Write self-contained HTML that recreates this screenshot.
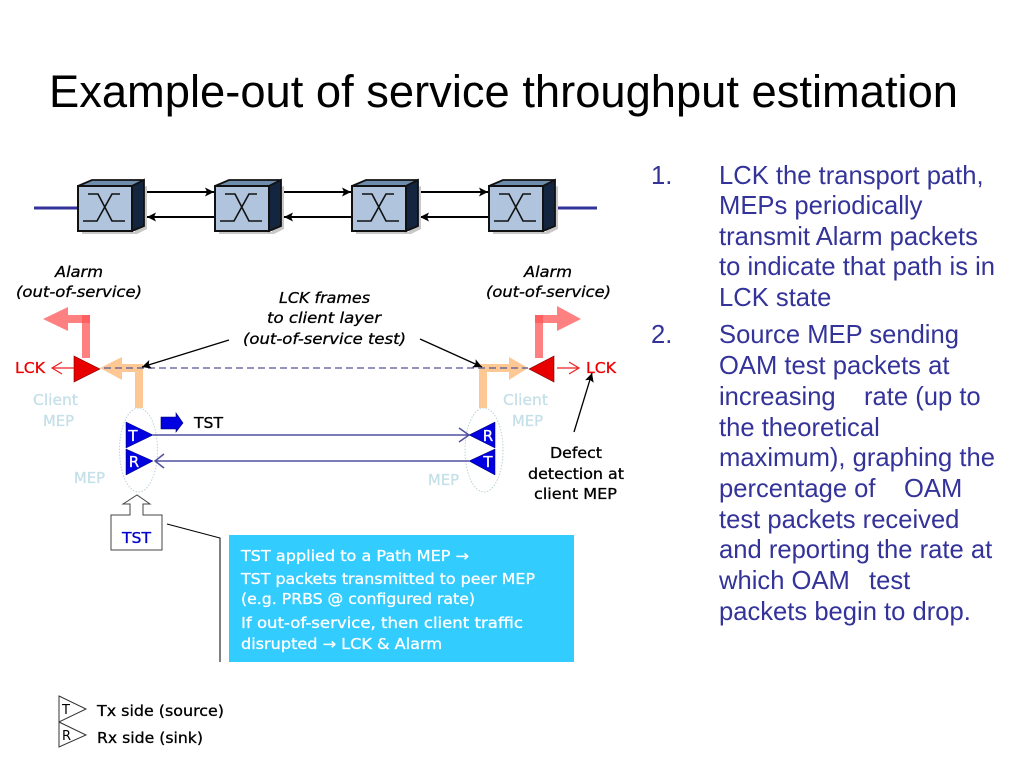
<!DOCTYPE html>
<html><head><meta charset="utf-8"><style>
html,body{margin:0;padding:0;background:#fff}
svg{display:block}
.d{font-family:"DejaVu Sans","Liberation Sans",sans-serif;font-size:15px;stroke-width:.3px}
.r{font-family:"Liberation Sans",Arial,sans-serif;font-size:25.6px;fill:#333399;white-space:pre}
</style></head><body>
<svg width="1024" height="768" viewBox="0 0 1024 768" xmlns="http://www.w3.org/2000/svg">
<defs>
<g id="sw">
<path d="M135 190L147 186V229L137 234H82V232H135Z" fill="#c8c8c8"/>
<path d="M78 186L92 180H144L132 186Z" fill="#6e8cab" stroke="#111" stroke-width="1.8"/>
<path d="M132 186L144 180V226L132 231Z" fill="#14253f" stroke="#111" stroke-width="1.8"/>
<rect x="78" y="186" width="54" height="45" fill="#b0c4de" stroke="#111" stroke-width="2"/>
<path d="M83 221H97L112 194H120M88 194H98L112 221H125" fill="none" stroke="#111" stroke-width="1.6"/>
</g>
<marker id="ab" markerWidth="10" markerHeight="9" refX="9" refY="4.500" orient="auto" markerUnits="userSpaceOnUse"><path d="M0 0L9 4.500L0 9L2 4.500Z" fill="#000"/></marker>
</defs>

<text x="49" y="107" font-family="Liberation Sans, Arial, sans-serif" font-size="45.3" fill="#000" textLength="909" lengthAdjust="spacingAndGlyphs">Example-out of service throughput estimation</text>

<!-- network row -->
<line x1="34" y1="208" x2="80" y2="208" stroke="#333399" stroke-width="3"/>
<line x1="548" y1="208" x2="597" y2="208" stroke="#333399" stroke-width="3"/>
<g stroke="#000" stroke-width="2" marker-end="url(#ab)">
<line x1="146" y1="192" x2="214" y2="192"/><line x1="283" y1="192" x2="351" y2="192"/><line x1="420" y1="192" x2="488" y2="192"/>
<line x1="215" y1="217" x2="147" y2="217"/><line x1="352" y1="217" x2="284" y2="217"/><line x1="488" y1="217" x2="420" y2="217"/>
</g>
<use href="#sw"/><use href="#sw" x="137"/><use href="#sw" x="274"/><use href="#sw" x="411"/>

<!-- pink arrows -->
<g fill="#ff8080" stroke="none">
<path d="M82 358V323H68V331L43 319L68 307V315H90V358Z"/>
<path d="M535 358V315H557V306L581 319L557 331V323H543V358Z"/>
</g>
<rect x="82" y="315" width="8" height="8" fill="#ff5f5f"/>
<rect x="535" y="315" width="8" height="8" fill="#ff5f5f"/>
<!-- orange arrows -->
<g fill="#fdc893">
<path d="M135 408V372H122V380L100 368L122 357V364H143V408Z"/>
<path d="M479 408V364H509V357L528 368L509 380V372H487V408Z"/>
</g>
<!-- dashed -->
<line x1="104" y1="368" x2="528" y2="368" stroke="#555599" stroke-width="1.2" stroke-dasharray="7,4"/>
<!-- red -->
<path d="M74 356L100 369L74 382Z" fill="#e80000" stroke="#700" stroke-width=".6"/>
<path d="M554 356L529 369L554 382Z" fill="#e80000" stroke="#700" stroke-width=".6"/>
<g fill="none" stroke="#ee2222" stroke-width="1.2">
<path d="M74 368H53M62 362L52 368L62 374"/>
<path d="M557 368H578M569 362L579 368L569 374"/>
</g>
<!-- black leaders -->
<g stroke="#000" stroke-width="1.3" marker-end="url(#ab)">
<line x1="229" y1="340" x2="142" y2="367"/>
<line x1="420" y1="339" x2="482" y2="367"/>
<line x1="574" y1="432" x2="592" y2="373"/>
</g>

<!-- MEP ellipses -->
<ellipse cx="138.500" cy="450" rx="19" ry="42" fill="none" stroke="#bcd2d8" stroke-width="1" stroke-dasharray="1.500,1.500"/>
<ellipse cx="484" cy="450" rx="19" ry="42" fill="none" stroke="#bcd2d8" stroke-width="1" stroke-dasharray="1.500,1.500"/>
<!-- blue lines -->
<g fill="none" stroke="#5050a0" stroke-width="1.5">
<path d="M153 435H469M459 428L469 435L459 442"/>
<path d="M155 461H469M164 454L155 461L164 468"/>
</g>
<!-- triangles -->
<g fill="#0000e0" stroke="#000060" stroke-width=".5">
<path d="M126 422L153 435L126 448Z"/><path d="M126 449L153 461L126 475Z"/>
<path d="M495 422L469 435L495 448Z"/><path d="M495 449L469 461L495 475Z"/>
</g>
<path d="M161 417H176V413L183 423L176 432V429H161Z" fill="#0000e0" stroke="#000060" stroke-width=".6"/>
<g class="d" fill="#fff" stroke="#fff" text-anchor="middle">
<text x="133" y="441">T</text><text x="134" y="467">R</text>
<text x="488" y="441">R</text><text x="488" y="467">T</text>
</g>

<!-- TST house -->
<path d="M111 515H130V504H123L137 495L150 504H143V515H162V550H111Z" fill="#fff" stroke="#444" stroke-width="1"/>
<text class="d" x="122" y="543" fill="#0000cc" stroke="#0000cc" textLength="29" lengthAdjust="spacingAndGlyphs">TST</text>
<path d="M167 524L220 538V662" fill="none" stroke="#000" stroke-width="1"/>
<rect x="229" y="535" width="345" height="127" fill="#33ccff"/>
<g class="d" fill="#fff" stroke="#fff">
<text x="241" y="561" textLength="228" lengthAdjust="spacingAndGlyphs">TST applied to a Path MEP →</text>
<text x="241" y="584" textLength="294" lengthAdjust="spacingAndGlyphs">TST packets transmitted to peer MEP</text>
<text x="241" y="604" textLength="234" lengthAdjust="spacingAndGlyphs">(e.g. PRBS @ configured rate)</text>
<text x="241" y="628" textLength="282" lengthAdjust="spacingAndGlyphs">If out-of-service, then client traffic</text>
<text x="241" y="649" textLength="201" lengthAdjust="spacingAndGlyphs">disrupted → LCK &amp; Alarm</text>
</g>

<!-- labels -->
<g class="d" fill="#000" stroke="#000" font-style="italic">
<text x="55" y="277" textLength="48" lengthAdjust="spacingAndGlyphs">Alarm</text>
<text x="16" y="297" textLength="126" lengthAdjust="spacingAndGlyphs">(out-of-service)</text>
<text x="524" y="277" textLength="48" lengthAdjust="spacingAndGlyphs">Alarm</text>
<text x="486" y="297" textLength="125" lengthAdjust="spacingAndGlyphs">(out-of-service)</text>
<text x="279" y="303" textLength="91" lengthAdjust="spacingAndGlyphs">LCK frames</text>
<text x="267" y="323" textLength="114" lengthAdjust="spacingAndGlyphs">to client layer</text>
<text x="243" y="344" textLength="163" lengthAdjust="spacingAndGlyphs">(out-of-service test)</text>
</g>
<g class="d" fill="#ee0000" stroke="#ee0000">
<text x="15" y="373" textLength="30" lengthAdjust="spacingAndGlyphs">LCK</text>
<text x="586" y="373" textLength="30" lengthAdjust="spacingAndGlyphs">LCK</text>
</g>
<g class="d" fill="#c5e0e8" stroke="#c5e0e8">
<text x="33" y="405" textLength="45" lengthAdjust="spacingAndGlyphs">Client</text>
<text x="43" y="426" textLength="31" lengthAdjust="spacingAndGlyphs">MEP</text>
<text x="503" y="405" textLength="45" lengthAdjust="spacingAndGlyphs">Client</text>
<text x="512" y="426" textLength="31" lengthAdjust="spacingAndGlyphs">MEP</text>
<text x="74" y="483" textLength="31" lengthAdjust="spacingAndGlyphs">MEP</text>
<text x="428" y="485" textLength="31" lengthAdjust="spacingAndGlyphs">MEP</text>
</g>
<g class="d" fill="#000" stroke="#000">
<text x="194" y="428" textLength="29" lengthAdjust="spacingAndGlyphs">TST</text>
<text x="550" y="458" textLength="52" lengthAdjust="spacingAndGlyphs">Defect</text>
<text x="528" y="479" textLength="96" lengthAdjust="spacingAndGlyphs">detection at</text>
<text x="534" y="499" textLength="83" lengthAdjust="spacingAndGlyphs">client MEP</text>
<text x="97" y="716" textLength="127" lengthAdjust="spacingAndGlyphs">Tx side (source)</text>
<text x="97" y="743" textLength="106" lengthAdjust="spacingAndGlyphs">Rx side (sink)</text>
</g>

<!-- legend -->
<g fill="#fff" stroke="#333" stroke-width="1">
<path d="M59 696L86 709L59 722Z"/><path d="M59 722L86 735L59 747Z"/>
</g>
<g class="d" fill="#000">
<text x="62" y="714" style="font-size:13px">T</text><text x="62" y="740" style="font-size:13px">R</text>
</g>

<!-- right text -->
<g class="r">
<text x="651" y="184">1.</text>
<text x="719" y="184">LCK the transport path,</text>
<text x="719" y="214">MEPs periodically</text>
<text x="719" y="245">transmit Alarm packets</text>
<text x="719" y="275">to indicate that path is in</text>
<text x="719" y="306">LCK state</text>
<text x="651" y="343">2.</text>
<text x="719" y="343">Source MEP sending</text>
<text x="719" y="374">OAM test packets at</text>
<text x="719" y="405">increasing</text><text x="864" y="405">rate (up to</text>
<text x="719" y="436">the theoretical</text>
<text x="719" y="466">maximum), graphing the</text>
<text x="719" y="497">percentage of</text><text x="904" y="497">OAM</text>
<text x="719" y="528">test packets received</text>
<text x="719" y="558">and reporting the rate at</text>
<text x="719" y="589">which OAM</text><text x="869" y="589">test</text>
<text x="719" y="620">packets begin to drop.</text>
</g>
</svg>
</body></html>
